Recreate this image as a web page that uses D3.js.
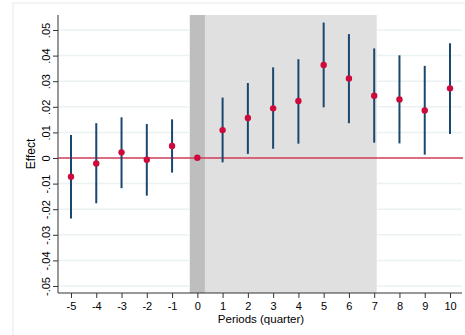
<!DOCTYPE html>
<html>
<head>
<meta charset="utf-8">
<script src="https://cdn.jsdelivr.net/npm/d3@7"></script>
<style>
  html, body { margin: 0; padding: 0; background: #fff; }
  svg { display: block; font-family: "Liberation Sans", Arial, sans-serif; }
</style>
</head>
<body>
<div id="chart"></div>
<script>
// event-study estimates
const periods = [-5, -4, -3, -2, -1, 0, 1, 2, 3, 4, 5, 6, 7, 8, 9, 10];
const effect = [-0.0073, -0.0021, 0.0022, -0.0007, 0.0047, 0.0001, 0.0109, 0.0156, 0.0194, 0.0223, 0.0363, 0.0311, 0.0243, 0.0229, 0.0186, 0.0272];
const ciHigh = [0.0090, 0.0136, 0.0159, 0.0133, 0.0151, null, 0.0236, 0.0293, 0.0354, 0.0386, 0.0529, 0.0484, 0.0428, 0.0401, 0.0360, 0.0448];
const ciLow = [-0.0236, -0.0177, -0.0118, -0.0147, -0.0057, null, -0.0017, 0.0016, 0.0036, 0.0056, 0.0198, 0.0136, 0.0060, 0.0057, 0.0013, 0.0094];
const yTicks = [-0.05, -0.04, -0.03, -0.02, -0.01, 0, 0.01, 0.02, 0.03, 0.04, 0.05];
const yTickLabels = ['-.05', '-.04', '-.03', '-.02', '-.01', '0', '.01', '.02', '.03', '.04', '.05'];
// shaded windows (period units)
const darkBand = [-0.3, 0.3];
const lightBand = [0.3, 7.1];

const width = 465, height = 335;
const plotLeft = 58, plotRight = 462, plotTop = 15, plotBottom = 293;

const svg = d3.select('#chart').append('svg')
  .attr('width', width)
  .attr('height', height);

// outer graph region edge
svg.append('rect')
  .attr('x', 13).attr('y', 3)
  .attr('width', 470).attr('height', 360)
  .attr('fill', 'none')
  .attr('stroke', '#e6ecee')
  .attr('stroke-width', 1);

const x = d3.scaleLinear().domain([-5, 10]).range([71, 450]);
const y = d3.scaleLinear().domain([-0.05, 0.05]).range([286, 30]);

// shaded periods
svg.append('rect')
  .attr('x', x(lightBand[0])).attr('y', plotTop)
  .attr('width', x(lightBand[1]) - x(lightBand[0]))
  .attr('height', plotBottom - plotTop)
  .attr('fill', '#e0e0e0');
svg.append('rect')
  .attr('x', x(darkBand[0])).attr('y', plotTop)
  .attr('width', x(darkBand[1]) - x(darkBand[0]))
  .attr('height', plotBottom - plotTop)
  .attr('fill', '#bebebe');

// gridlines, left out where the shaded window covers them
svg.append('g')
  .selectAll('line')
  .data(yTicks.filter(d => d !== 0))
  .enter()
  .append('line')
  .attr('x1', plotLeft).attr('x2', x(darkBand[0]))
  .attr('y1', d => y(d)).attr('y2', d => y(d))
  .attr('stroke', '#eaf2f3')
  .attr('stroke-width', 1.5);
svg.append('g')
  .selectAll('line')
  .data(yTicks.filter(d => d !== 0))
  .enter()
  .append('line')
  .attr('x1', x(lightBand[1])).attr('x2', plotRight)
  .attr('y1', d => y(d)).attr('y2', d => y(d))
  .attr('stroke', '#eaf2f3')
  .attr('stroke-width', 1.5);

// y axis
const yAxis = svg.append('g')
  .attr('transform', 'translate(' + plotLeft + ',0)')
  .call(d3.axisLeft(y).tickValues(yTicks).tickSize(5).tickSizeOuter(0)
    .tickFormat((d, i) => yTickLabels[i]));
yAxis.select('.domain').attr('d', 'M0,' + plotTop + 'V' + plotBottom).attr('stroke', '#333');
yAxis.selectAll('.tick line').attr('stroke', '#333');
yAxis.selectAll('.tick text')
  .attr('x', null).attr('dy', null)
  .attr('transform', 'translate(-8,0) rotate(-90)')
  .attr('text-anchor', 'middle')
  .style('font-size', '11px')
  .attr('fill', '#000');

// x axis
const xAxis = svg.append('g')
  .attr('transform', 'translate(0,' + plotBottom + ')')
  .call(d3.axisBottom(x).tickValues(periods).tickSize(5).tickSizeOuter(0)
    .tickFormat(d => String(d)));
xAxis.select('.domain').attr('d', 'M' + plotLeft + ',0H' + plotRight).attr('stroke', '#333');
xAxis.selectAll('.tick line').attr('stroke', '#333');
xAxis.selectAll('.tick text')
  .attr('y', 9)
  .style('font-size', '11px')
  .attr('fill', '#000');

// axis titles
svg.append('text')
  .attr('transform', 'translate(35,' + ((plotTop + plotBottom) / 2) + ') rotate(-90)')
  .attr('text-anchor', 'middle')
  .style('font-size', '12px')
  .text('Effect');
svg.append('text')
  .attr('x', (plotLeft + plotRight) / 2 + 1)
  .attr('y', 323)
  .attr('text-anchor', 'middle')
  .style('font-size', '11.5px')
  .text('Periods (quarter)');

// zero line
svg.append('line')
  .attr('x1', plotLeft).attr('x2', plotRight + 1)
  .attr('y1', y(0)).attr('y2', y(0))
  .attr('stroke', '#cf3b58')
  .attr('stroke-width', 1.6);

// confidence intervals
const rows = periods.map((p, i) => ({ p: p, est: effect[i], hi: ciHigh[i], lo: ciLow[i] }));

svg.selectAll('.ci')
  .data(rows.filter(d => d.hi !== null))
  .enter()
  .append('line')
  .attr('class', 'ci')
  .attr('x1', d => x(d.p)).attr('x2', d => x(d.p))
  .attr('y1', d => y(d.hi)).attr('y2', d => y(d.lo))
  .attr('stroke', '#1a476f')
  .attr('stroke-width', 2);

svg.selectAll('.pt')
  .data(rows)
  .enter()
  .append('circle')
  .attr('class', 'pt')
  .attr('cx', d => x(d.p))
  .attr('cy', d => y(d.est))
  .attr('r', 3.2)
  .attr('fill', '#cc0a3c');
</script>
</body>
</html>
